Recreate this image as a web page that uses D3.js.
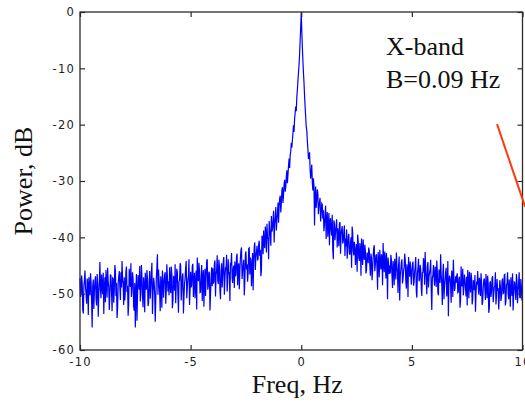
<!DOCTYPE html>
<html>
<head>
<meta charset="utf-8">
<script src="https://cdnjs.cloudflare.com/ajax/libs/d3/7.8.5/d3.min.js"></script>
<style>
  html, body { margin: 0; padding: 0; background: #fff; }
  svg { display: block; }
</style>
</head>
<body>
<svg id="chart" width="525" height="411"></svg>
<script>
const freqStart = -10, freqStep = 0.025; // spectrum bins, Hz

// power in dB at -10, -9.95, ... 10 (20 per row = 1 Hz)
const power = [
  -47.2, -49.8, -48.1, -53.5, -47.6, -49.0, -51.8, -48.4, -47.1, -50.3, -48.0, -56.0, -47.5, -49.6, -46.9, -52.1, -48.2, -49.9, -44.4, -50.8,
  -48.6, -46.3, -49.2, -51.5, -47.8, -45.4, -48.9, -50.2, -46.8, -53.1, -47.3, -49.4, -45.9, -48.1, -52.6, -47.0, -48.8, -46.2, -44.2, -48.3,
  -47.1, -49.5, -45.2, -48.6, -51.9, -47.8, -44.6, -49.1, -47.4, -53.0, -56.0, -46.5, -50.3, -47.7, -45.1, -49.8, -47.0, -52.4, -48.5, -46.3,
  -49.2, -47.4, -51.6, -46.0, -48.7, -44.5, -50.1, -47.9, -55.0, -47.2, -43.0, -45.7, -49.6, -46.9, -52.5, -47.5, -48.3, -46.2, -49.4, -47.0,
  -47.8, -45.3, -49.9, -46.6, -51.2, -47.1, -44.8, -48.5, -46.2, -53.4, -47.6, -45.0, -48.9, -46.4, -50.6, -47.3, -44.2, -49.0, -46.8, -52.0,
  -46.1, -48.4, -44.7, -47.5, -50.8, -45.9, -43.6, -47.8, -46.0, -49.7, -44.9, -47.2, -52.3, -45.6, -47.0, -43.9, -48.6, -46.4, -50.1, -45.3,
  -45.5, -47.9, -44.1, -46.7, -43.2, -48.3, -45.0, -51.0, -44.6, -46.9, -43.5, -47.4, -45.8, -49.6, -43.9, -46.2, -44.7, -42.8, -48.1, -45.0,
  -44.3, -46.6, -42.9, -45.1, -49.2, -43.7, -41.8, -45.9, -44.0, -47.8, -42.5, -44.8, -46.3, -41.9, -43.6, -48.7, -42.8, -44.2, -40.9, -43.4,
  -41.5, -43.8, -40.6, -42.2, -45.9, -40.1, -38.8, -41.9, -39.2, -37.6, -40.3, -37.1, -39.8, -36.2, -38.4, -35.3, -37.6, -34.6, -36.9, -33.8,
  -34.5, -32.6, -34.0, -31.1, -32.4, -29.8, -31.0, -28.1, -28.9, -26.0, -25.4, -23.2, -22.8, -20.1, -18.9, -16.8, -15.1, -12.2, -9.4, -5.1,
  0.0, -6.2, -10.8, -14.9, -18.6, -21.0, -24.3, -25.6, -27.9, -28.4, -30.2, -29.5, -37.9, -31.0, -33.4, -32.1, -34.6, -33.0, -35.9, -34.2,
  -35.2, -37.8, -34.4, -36.6, -39.9, -35.7, -37.2, -38.8, -36.0, -43.9, -37.5, -39.1, -36.8, -38.4, -41.6, -37.3, -39.5, -38.0, -40.7, -37.9,
  -40.2, -38.6, -41.9, -39.4, -43.1, -40.0, -38.1, -42.4, -40.8, -44.9, -41.2, -39.5, -43.6, -41.0, -46.8, -42.3, -40.4, -44.0, -42.5, -45.7,
  -43.2, -41.8, -45.0, -42.9, -47.6, -43.5, -41.4, -44.8, -43.0, -49.3, -44.1, -42.2, -45.7, -43.6, -41.0, -46.2, -44.4, -42.8, -51.0, -44.9,
  -45.0, -43.1, -46.8, -44.2, -48.5, -45.6, -42.7, -46.3, -44.9, -51.2, -45.8, -43.9, -47.4, -45.2, -44.0, -49.1, -45.9, -43.5, -47.0, -46.2,
  -46.0, -44.3, -47.9, -45.2, -49.6, -46.5, -43.8, -47.3, -45.7, -50.4, -46.2, -44.6, -42.6, -47.5, -45.1, -48.9, -46.3, -44.0, -52.9, -46.7,
  -47.1, -45.2, -48.8, -46.0, -50.3, -47.4, -43.0, -48.2, -46.5, -51.0, -47.7, -45.4, -49.2, -54.0, -46.8, -48.5, -45.9, -50.6, -47.3, -49.0,
  -48.1, -46.4, -49.7, -47.0, -51.2, -48.3, -45.6, -49.0, -47.5, -50.5, -52.1, -48.0, -46.1, -49.8, -47.2, -50.9, -48.6, -46.7, -50.0, -48.4,
  -48.9, -47.2, -50.4, -48.0, -51.5, -47.6, -49.3, -46.5, -50.8, -48.2, -52.6, -47.9, -49.5, -46.9, -50.1, -48.7, -51.9, -47.4, -49.0, -50.6,
  -48.6, -50.5, -47.3, -49.9, -46.6, -51.4, -48.2, -50.0, -47.5, -52.3, -48.8, -46.4, -50.2, -48.0, -51.1, -47.7, -49.5, -46.2, -50.8, -48.9,
  -49.6
];

// power in dB at the in-between bins -9.975, -9.925, ... 9.975
const powerMid = [
  -50.6, -46.8, -52.9, -48.7, -45.9, -50.2, -47.3, -53.8, -49.1, -46.4, -51.5, -48.6, -52.7, -47.8, -50.9, -46.5, -54.1, -47.9, -49.3, -46.6,
  -50.1, -53.6, -47.1, -45.8, -50.7, -48.0, -52.9, -46.6, -49.8, -47.2, -51.6, -44.9, -50.4, -54.3, -48.2, -46.0, -51.1, -48.9, -47.5, -52.0,
  -51.2, -46.1, -49.7, -53.9, -45.6, -48.8, -50.6, -46.2, -52.3, -48.1, -50.0, -54.8, -46.7, -49.3, -51.4, -44.9, -50.5, -47.1, -53.3, -49.2,
  -45.8, -52.2, -48.0, -50.9, -46.3, -53.6, -47.2, -49.9, -51.3, -45.4, -50.2, -47.7, -53.1, -48.4, -45.9, -50.7, -46.6, -51.8, -44.8, -49.6,
  -50.3, -48.1, -45.2, -52.6, -47.0, -49.5, -51.7, -45.6, -50.1, -47.8, -44.6, -51.2, -46.9, -53.5, -48.2, -45.4, -50.8, -47.6, -43.9, -49.4,
  -48.9, -45.1, -50.6, -46.3, -48.2, -52.8, -46.9, -44.5, -49.8, -47.1, -51.3, -45.8, -48.0, -50.4, -44.2, -49.3, -46.1, -53.0, -47.4, -48.7,
  -48.2, -44.6, -50.5, -45.9, -47.7, -44.0, -49.4, -46.1, -48.9, -44.3, -50.2, -45.6, -43.1, -48.0, -46.5, -51.3, -44.8, -47.2, -45.5, -49.0,
  -46.9, -43.4, -48.5, -44.6, -46.0, -42.3, -47.4, -44.9, -50.3, -43.1, -45.7, -47.9, -42.0, -46.6, -44.1, -45.3, -49.4, -41.7, -45.8, -42.6,
  -44.1, -41.2, -43.3, -46.9, -39.7, -43.0, -41.4, -38.1, -42.7, -40.0, -43.9, -38.6, -41.5, -39.0, -36.9, -40.9, -36.4, -38.8, -35.7, -37.4,
  -33.1, -35.6, -31.7, -33.9, -30.6, -31.9, -29.2, -30.4, -27.3, -27.7, -24.8, -24.1, -21.5, -21.3, -17.9, -17.6, -13.8, -10.7, -7.6, -2.8,
  -3.4, -8.7, -12.6, -16.8, -20.4, -22.9, -26.1, -24.9, -29.6, -27.1, -31.7, -30.8, -32.6, -34.8, -31.5, -35.9, -33.7, -37.2, -34.0, -36.7,
  -38.9, -36.1, -40.3, -35.5, -38.1, -41.4, -36.6, -39.7, -42.2, -37.0, -40.5, -38.0, -41.8, -39.2, -37.6, -42.9, -38.7, -41.1, -39.0, -43.3,
  -41.6, -43.8, -39.8, -42.9, -41.0, -45.4, -39.3, -43.2, -41.7, -42.6, -46.1, -40.7, -44.2, -42.1, -40.2, -44.9, -43.1, -41.3, -46.4, -42.7,
  -44.6, -42.4, -46.8, -43.7, -45.9, -41.9, -46.0, -43.3, -45.5, -42.6, -47.1, -44.7, -43.0, -48.5, -44.2, -42.5, -47.3, -45.1, -43.6, -46.5,
  -46.4, -44.0, -49.0, -45.3, -43.8, -47.5, -45.1, -49.9, -43.4, -46.8, -44.5, -48.2, -46.0, -42.9, -47.7, -44.8, -50.6, -46.1, -44.3, -48.4,
  -44.8, -48.6, -46.1, -43.5, -50.7, -45.4, -47.8, -44.9, -49.0, -46.3, -43.7, -48.4, -45.9, -50.1, -44.4, -47.0, -45.5, -49.3, -47.2, -44.9,
  -48.6, -46.0, -44.1, -49.8, -45.7, -48.1, -46.6, -52.0, -44.7, -48.9, -46.2, -50.5, -44.2, -48.0, -47.1, -51.6, -46.7, -44.0, -49.5, -46.9,
  -46.9, -49.8, -47.3, -52.5, -45.2, -48.7, -50.3, -46.6, -49.1, -47.0, -45.8, -50.8, -48.4, -46.3, -51.9, -47.6, -49.4, -53.2, -47.9, -46.0,
  -50.2, -48.1, -46.4, -52.0, -49.0, -47.3, -51.1, -48.5, -46.8, -53.4, -48.0, -50.6, -47.2, -51.5, -48.8, -46.2, -50.3, -49.2, -52.8, -47.6,
  -51.3, -47.8, -50.0, -46.7, -52.1, -48.4, -46.2, -51.0, -49.6, -47.1, -50.4, -53.0, -47.9, -49.8, -46.5, -51.7, -48.1, -50.6, -47.4, -51.2
];

const xTicks = [-10, -5, 0, 5, 10];
const yTicks = [0, -10, -20, -30, -40, -50, -60];
const noteLines = ['X-band', 'B=0.09 Hz'];
const pointer = [[8.85, -19.9], [10.12, -34.6]]; // red annotation stroke, data coords

// full spectrum: whole bins and in-between bins interleaved
const spectrum = power.flatMap(function(v, i) {
  return i < powerMid.length ? [v, powerMid[i]] : [v];
});

const svg = d3.select('#chart');

const plotL = 80, plotR = 522.5, plotT = 12, plotB = 350;

const x = d3.scaleLinear().domain([-10, 10]).range([plotL, plotR]);
const y = d3.scaleLinear().domain([-60, 0]).range([plotB, plotT]);

const serif = '"Liberation Serif", "Times New Roman", serif',
  sans = '"DejaVu Sans", Arial, sans-serif';

// spectrum
const line = d3.line()
  .x(function(d, i) { return x(freqStart + i * freqStep); })
  .y(function(d) { return y(d); });

svg.append('path')
  .datum(spectrum)
  .attr('d', line)
  .attr('fill', 'none')
  .attr('stroke', '#0000ff')
  .attr('stroke-width', 1.2)
  .attr('stroke-linejoin', 'miter');

// box + inward ticks on every side (matlab style)
const axisCol = '#2a2a2a';
const tickLen = 5;

function styleAxis(g) {
  g.select('.domain').remove();
  g.selectAll('.tick line').attr('stroke', axisCol).attr('stroke-width', 1.2);
  g.selectAll('.tick text')
    .attr('fill', '#222')
    .style('font-family', sans)
    .style('font-size', '11.5px')
    .style('letter-spacing', '1.2px');
}

svg.append('g')
  .attr('transform', `translate(0,${plotB})`)
  .call(d3.axisBottom(x).tickValues(xTicks).tickSizeInner(-tickLen).tickSizeOuter(0).tickPadding(8)
    .tickFormat(d => d < 0 ? '-' + Math.abs(d) : d))
  .call(styleAxis);

svg.append('g')
  .attr('transform', `translate(0,${plotT})`)
  .call(d3.axisTop(x).tickValues(xTicks).tickSizeInner(-tickLen).tickSizeOuter(0).tickFormat(''))
  .call(styleAxis);

svg.append('g')
  .attr('transform', `translate(${plotL},0)`)
  .call(d3.axisLeft(y).tickValues(yTicks).tickSizeInner(-tickLen).tickSizeOuter(0).tickPadding(5)
    .tickFormat(d => d < 0 ? '-' + Math.abs(d) : d))
  .call(styleAxis);

svg.append('g')
  .attr('transform', `translate(${plotR},0)`)
  .call(d3.axisRight(y).tickValues(yTicks).tickSizeInner(-tickLen).tickSizeOuter(0).tickFormat(''))
  .call(styleAxis);

svg.append('rect')
  .attr('x', plotL).attr('y', plotT)
  .attr('width', plotR - plotL).attr('height', plotB - plotT)
  .attr('fill', 'none')
  .attr('stroke', axisCol)
  .attr('stroke-width', 1.3);

// axis titles
svg.append('text')
  .attr('x', (plotL + plotR) / 2 - 4)
  .attr('y', 393)
  .attr('text-anchor', 'middle')
  .style('font-family', serif)
  .style('font-size', '26px')
  .attr('fill', '#111')
  .text('Freq, Hz');

svg.append('text')
  .attr('transform', 'translate(32,181) rotate(-90)')
  .attr('text-anchor', 'middle')
  .style('font-family', serif)
  .style('font-size', '26px')
  .attr('fill', '#111')
  .text('Power, dB');

// annotation
svg.selectAll('.note').data(noteLines).enter()
  .append('text')
  .attr('class', 'note')
  .attr('x', 386)
  .attr('y', function(d, i) { return 55 + i * 33; })
  .style('font-family', serif)
  .style('font-size', '26px')
  .attr('fill', '#111')
  .text(function(d) { return d; });

svg.append('path')
  .datum(pointer)
  .attr('d', d3.line().x(d => x(d[0])).y(d => y(d[1])))
  .attr('fill', 'none')
  .attr('stroke', '#ff3a0a')
  .attr('stroke-width', 2);
</script>
</body>
</html>
